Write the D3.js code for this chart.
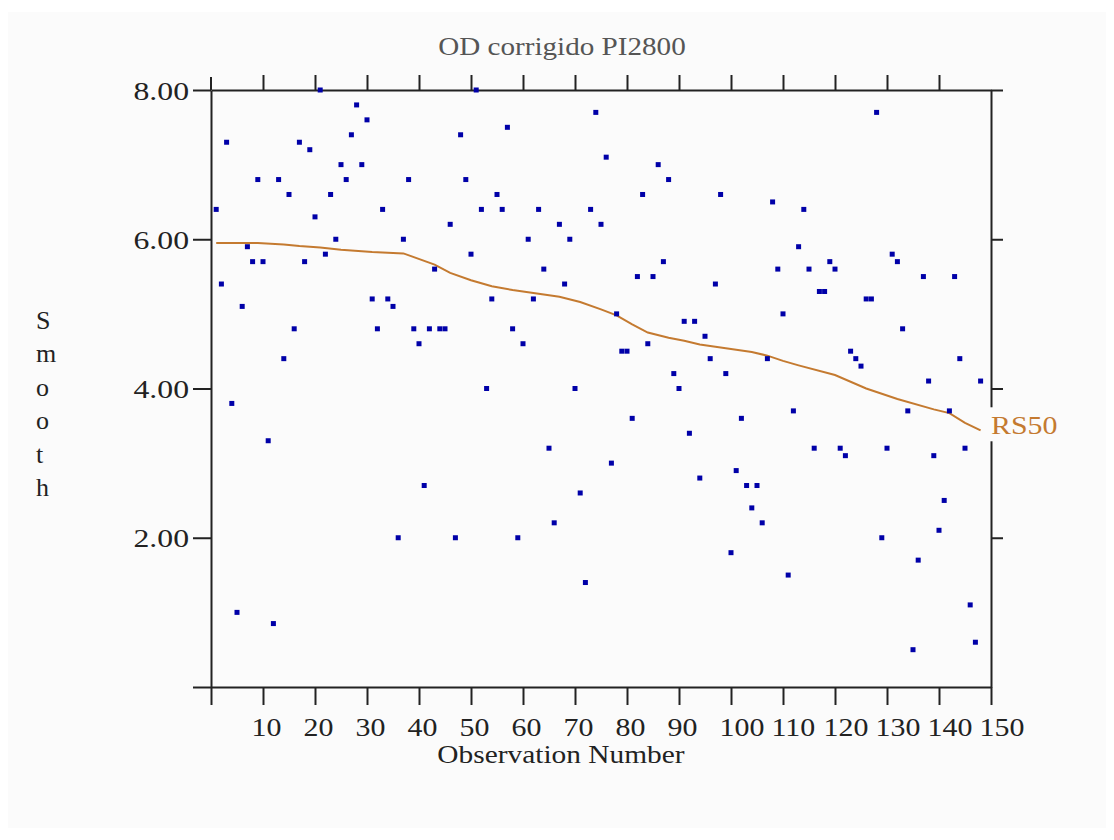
<!DOCTYPE html>
<html>
<head>
<meta charset="utf-8">
<script src="https://cdn.jsdelivr.net/npm/d3@7"></script>
<style>
  body { margin: 0; background: #ffffff; }
  svg { display: block; }
  text { font-family: "Liberation Serif", serif; }
</style>
</head>
<body>
<svg id="chart" width="1114" height="840"></svg>
<script>
// ---- data ----
const title = "OD corrigido PI2800";
const xTitle = "Observation Number";
const yTitle = "Smooth";
const seriesLabel = "RS50";
const xTicks = [0, 10, 20, 30, 40, 50, 60, 70, 80, 90, 100, 110, 120, 130, 140, 150];
const yTicks = [0, 2, 4, 6, 8];
const values = [
  6.4, 5.4, 7.3, 3.8, 1.0, 5.1, 5.9, 5.7, 6.8, 5.7,
  3.3, 0.85, 6.8, 4.4, 6.6, 4.8, 7.3, 5.7, 7.2, 6.3,
  8.0, 5.8, 6.6, 6.0, 7.0, 6.8, 7.4, 7.8, 7.0, 7.6,
  5.2, 4.8, 6.4, 5.2, 5.1, 2.0, 6.0, 6.8, 4.8, 4.6,
  2.7, 4.8, 5.6, 4.8, 4.8, 6.2, 2.0, 7.4, 6.8, 5.8,
  8.0, 6.4, 4.0, 5.2, 6.6, 6.4, 7.5, 4.8, 2.0, 4.6,
  6.0, 5.2, 6.4, 5.6, 3.2, 2.2, 6.2, 5.4, 6.0, 4.0,
  2.6, 1.4, 6.4, 7.7, 6.2, 7.1, 3.0, 5.0, 4.5, 4.5,
  3.6, 5.5, 6.6, 4.6, 5.5, 7.0, 5.7, 6.8, 4.2, 4.0,
  4.9, 3.4, 4.9, 2.8, 4.7, 4.4, 5.4, 6.6, 4.2, 1.8,
  2.9, 3.6, 2.7, 2.4, 2.7, 2.2, 4.4, 6.5, 5.6, 5.0,
  1.5, 3.7, 5.9, 6.4, 5.6, 3.2, 5.3, 5.3, 5.7, 5.6,
  3.2, 3.1, 4.5, 4.4, 4.3, 5.2, 5.2, 7.7, 2.0, 3.2,
  5.8, 5.7, 4.8, 3.7, 0.5, 1.7, 5.5, 4.1, 3.1, 2.1,
  2.5, 3.7, 5.5, 4.4, 3.2, 1.1, 0.6, 4.1
];
const smoothObs = [1, 9, 14, 17, 21, 25, 31, 37, 43, 46, 50, 54, 58, 62, 67, 71, 75, 78, 81, 84, 88, 91, 94, 97, 100, 104, 107, 110, 113, 120, 126, 132, 139, 142, 145, 148];
const smoothVals = [5.95, 5.95, 5.93, 5.91, 5.89, 5.86, 5.83, 5.81, 5.66, 5.55, 5.45, 5.37, 5.32, 5.28, 5.23, 5.16, 5.06, 4.98, 4.86, 4.75, 4.68, 4.64, 4.59, 4.56, 4.53, 4.49, 4.44, 4.37, 4.31, 4.18, 4.00, 3.86, 3.72, 3.67, 3.54, 3.44];

// ---- layout ----
const svg = d3.select("#chart");
const axisColor = "#222";
const dotColor = "#0000a8";
const lineColor = "#c47a30";
const bg = "#fbfbfb";

svg.append("rect").attr("x", 8).attr("y", 12).attr("width", 1098).attr("height", 816).attr("fill", bg);

const x = d3.scaleLinear().domain([0, 150]).range([211, 991]);
const y = d3.scaleLinear().domain([0, 8]).range([687, 90]);

function stretch(sel, k) {
  sel.each(function () {
    const w = this.getComputedTextLength();
    d3.select(this).attr("textLength", w * k).attr("lengthAdjust", "spacingAndGlyphs");
  });
}

function styleAxis(g) {
  g.selectAll("path.domain").attr("stroke", axisColor).attr("stroke-width", 2);
  g.selectAll(".tick line").attr("stroke", axisColor).attr("stroke-width", 2);
}

// bottom axis
const gB = svg.append("g").attr("transform", `translate(0,${y(0)})`)
  .call(d3.axisBottom(x).tickValues(xTicks).tickSize(18).tickSizeOuter(0).tickFormat(d => d === 0 ? "" : d));
styleAxis(gB);
gB.selectAll(".tick text")
  .attr("text-anchor", "start").attr("x", -12).attr("y", 49).attr("dy", null)
  .attr("font-size", 26).attr("fill", axisColor)
  .attr("font-family", "Liberation Serif");
stretch(gB.selectAll(".tick text"), 1.15);

// top axis
const gT = svg.append("g").attr("transform", `translate(0,${y(8)})`)
  .call(d3.axisTop(x).tickValues(xTicks.filter(d => d > 0 && d < 150)).tickSize(15).tickSizeOuter(0).tickFormat(""));
styleAxis(gT);

// left axis
const gL = svg.append("g").attr("transform", `translate(${x(0)},0)`)
  .call(d3.axisLeft(y).tickValues(yTicks).tickSize(18).tickSizeOuter(0).tickFormat(d => d === 0 ? "" : d3.format(".2f")(d)));
styleAxis(gL);
gL.selectAll(".tick text")
  .attr("x", -22).attr("dy", null).attr("y", 9)
  .attr("font-size", 26).attr("fill", axisColor)
  .attr("font-family", "Liberation Serif");
stretch(gL.selectAll(".tick text"), 1.22);
// left axis extension above top
svg.append("line").attr("x1", x(0)).attr("x2", x(0)).attr("y1", y(8) - 13).attr("y2", y(8))
  .attr("stroke", axisColor).attr("stroke-width", 2);

// right axis
const gR = svg.append("g").attr("transform", `translate(${x(150)},0)`)
  .call(d3.axisRight(y).tickValues(yTicks.filter(d => d > 0)).tickSize(12).tickSizeOuter(0).tickFormat(""));
styleAxis(gR);

// smooth line
const line = d3.line().x(d => x(d[0])).y(d => y(d[1]));
svg.append("path")
  .datum(smoothObs.map((o, i) => [o, smoothVals[i]]))
  .attr("d", line).attr("fill", "none").attr("stroke", lineColor).attr("stroke-width", 2);

// points
svg.append("g").selectAll("rect")
  .data(values)
  .join("rect")
  .attr("x", (d, i) => x(i + 1) - 2.5)
  .attr("y", d => y(d) - 2.5)
  .attr("width", 5).attr("height", 5)
  .attr("fill", dotColor);

// series label with background covering right axis
const lastV = smoothVals[smoothVals.length - 1];
const lbl = svg.append("g");
lbl.append("rect")
  .attr("x", x(150) - 4).attr("y", y(lastV) - 23).attr("width", 72).attr("height", 34)
  .attr("fill", bg);
const lt = lbl.append("text")
  .attr("x", x(150)).attr("y", y(lastV) + 4)
  .attr("font-size", 26).attr("fill", lineColor)
  .text(seriesLabel);
stretch(lt, 1.15);

// title
const tt = svg.append("text").attr("x", 562).attr("y", 55).attr("text-anchor", "middle")
  .attr("font-size", 26).attr("fill", "#555").text(title);
stretch(tt, 1.12);

// x title
const xt = svg.append("text").attr("x", 561).attr("y", 763).attr("text-anchor", "middle")
  .attr("font-size", 26).attr("fill", axisColor).text(xTitle);
stretch(xt, 1.13);

// y title, stacked letters
svg.append("g").selectAll("text")
  .data(yTitle.split(""))
  .join("text")
  .attr("x", 36)
  .attr("y", (d, i) => 329 + i * 33.4)
  .attr("font-size", 26).attr("fill", axisColor)
  .text(d => d);
</script>
</body>
</html>
